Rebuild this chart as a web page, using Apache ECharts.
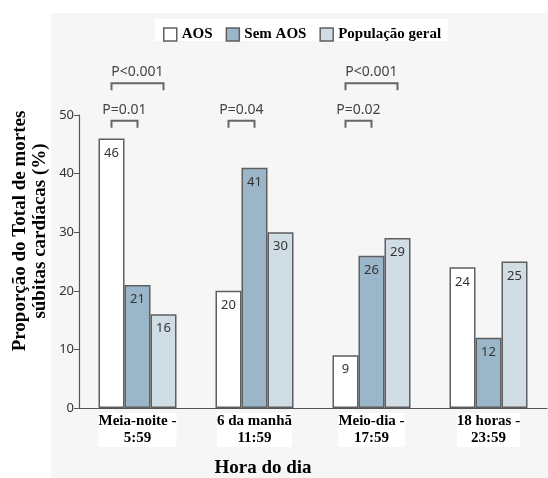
<!DOCTYPE html>
<html>
<head>
<meta charset="utf-8">
<script src="https://cdn.jsdelivr.net/npm/echarts@6/dist/echarts.min.js"></script>
<style>html,body{margin:0;padding:0;background:#fff}#c{width:548px;height:478px}</style>
</head>
<body>
<div id="c"></div>
<script>
const categories = ['Meia-noite -\n5:59', '6 da manhã\n11:59', 'Meio-dia -\n17:59', '18 horas -\n23:59'];
const seriesNames = ['AOS', 'Sem AOS', 'População geral'];
const aos = [46, 20, 9, 24];
const semAos = [21, 41, 26, 12];
const popGeral = [16, 30, 29, 25];
const yTicks = [0, 10, 20, 30, 40, 50];
// [categoryIndex, fromBar, toBar, level(0 low / 1 high), label]
const pValues = [
  [0, 0, 1, 0, 'P=0.01'],
  [0, 0, 2, 1, 'P<0.001'],
  [1, 0, 1, 0, 'P=0.04'],
  [2, 0, 1, 0, 'P=0.02'],
  [2, 0, 2, 1, 'P<0.001']
];

const colors = ['#ffffff', '#9bb6c8', '#d1dde5'];
const borderCol = '#5f5f5f';
const serif = '"Liberation Serif", "Times New Roman", serif';
const sans = '"Noto Sans", "Open Sans", sans-serif';
const BAR_W = 26;

const chart = echarts.init(document.getElementById('c'));

function barSeries(name, data, idx) {
  return {
    name: name, type: 'bar', data: data, barWidth: BAR_W, barGap: '0%',
    itemStyle: { color: colors[idx], borderColor: borderCol, borderWidth: 1.5 },
    label: { show: true, position: 'insideTop', distance: 8, color: '#333', fontFamily: sans, fontSize: 13 }
  };
}

const option = {
  animation: false,
  backgroundColor: '#ffffff',
  graphic: [
    { type: 'rect', z: -10, shape: { x: 51, y: 13, width: 497, height: 465 }, style: { fill: '#f6f6f6' } },
    { type: 'rect', z: -9, shape: { x: 155, y: 19, width: 293, height: 22 }, style: { fill: '#ffffff' } },
    { type: 'text', x: 30, y: 231, rotation: Math.PI / 2, style: {
        text: 'Proporção do Total de mortes\nsúbitas cardíacas (%)', textAlign: 'center', textVerticalAlign: 'middle',
        font: 'bold 19px ' + serif, fill: '#000', lineHeight: 20 } },
    { type: 'text', x: 263, y: 468, style: { text: 'Hora do dia', textAlign: 'center', textVerticalAlign: 'middle',
        font: 'bold 19px ' + serif, fill: '#000' } }
  ],
  legend: {
    top: 22, left: 158, itemWidth: 13, itemHeight: 13, itemGap: 13, icon: 'rect',
    data: seriesNames,
    itemStyle: { borderColor: borderCol, borderWidth: 1.5 },
    textStyle: { fontFamily: serif, fontWeight: 'bold', fontSize: 15, color: '#000', padding: [0, 0, 0, 0] }
  },
  grid: { left: 79, right: 1, top: 115, bottom: 70 },
  xAxis: {
    type: 'category', data: categories,
    axisLine: { lineStyle: { color: '#555', width: 1.2 } },
    axisTick: { show: false },
    axisLabel: { fontFamily: serif, fontWeight: 'bold', fontSize: 15, color: '#000', lineHeight: 17, margin: 5, backgroundColor: '#fff' }
  },
  yAxis: {
    type: 'value', min: 0, max: 50, interval: 10,
    axisLine: { show: true, lineStyle: { color: '#555', width: 1.2 } },
    axisTick: { show: true, length: 5, lineStyle: { color: '#555' } },
    splitLine: { show: false },
    axisLabel: { fontFamily: sans, fontSize: 13, color: '#333', margin: 5,
      formatter: v => (yTicks.indexOf(v) >= 0 ? String(v) : '') }
  },
  series: [
    barSeries(seriesNames[0], aos, 0),
    barSeries(seriesNames[1], semAos, 1),
    barSeries(seriesNames[2], popGeral, 2),
    {
      type: 'custom', clip: false, silent: true, z: 10,
      encode: { x: 0, y: 3 },
      data: pValues,
      renderItem: function (params, api) {
        const cat = api.value(0), b0 = api.value(1), b1 = api.value(2), lvl = api.value(3);
        const label = pValues[params.dataIndex][4];
        const base = api.coord([cat, 0]);
        const cx = base[0];
        const x0 = cx + (b0 - 1) * BAR_W;
        const x1 = cx + (b1 - 1) * BAR_W;
        const yTop = api.coord([cat, lvl === 0 ? 49 : 55.4])[1];
        const tick = 7;
        const col = '#666';
        return {
          type: 'group',
          children: [
            { type: 'polyline', shape: { points: [[x0, yTop + tick], [x0, yTop], [x1, yTop], [x1, yTop + tick]] },
              style: { stroke: col, lineWidth: 2, fill: null } },
            { type: 'text', x: (x0 + x1) / 2, y: yTop - 4, style: { text: label, textAlign: 'center', textVerticalAlign: 'bottom',
              font: '14px ' + sans, fill: '#444' } }
          ]
        };
      }
    }
  ]
};
chart.setOption(option);
</script>
</body>
</html>
